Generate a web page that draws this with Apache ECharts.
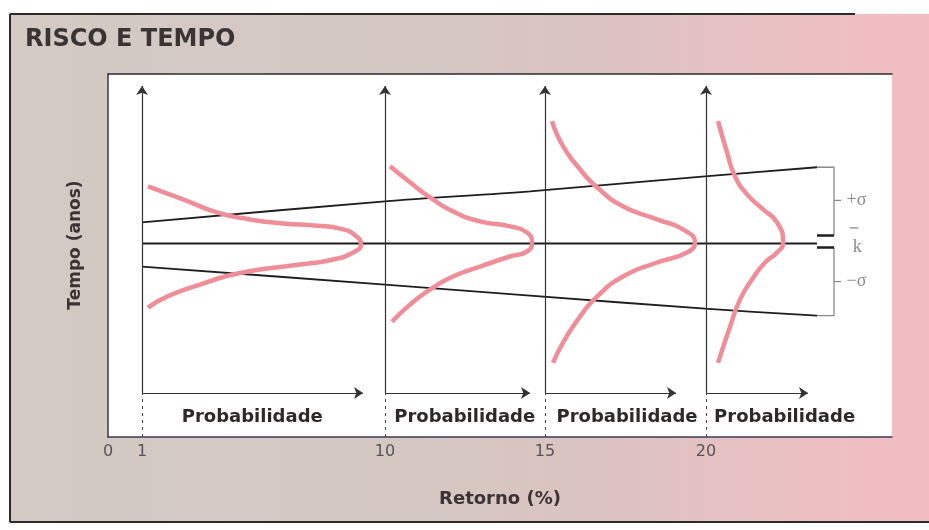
<!DOCTYPE html>
<html>
<head>
<meta charset="utf-8">
<title>Risco e tempo</title>
<script src="https://cdn.jsdelivr.net/npm/echarts@6/dist/echarts.min.js"></script>
<style>
  html, body { margin: 0; padding: 0; background: #fff; }
  #chart { width: 929px; height: 530px; }
</style>
</head>
<body>
<div id="chart"></div>
<script>
// eixo horizontal (Retorno): rotulos e posicao de cada um no esquema (0-100)
var retornoLabels = ['0', '1', '10', '15', '20'];
var retornoPos = [0, 4.34, 35.33, 55.74, 76.28];

// paineis: origem de cada eixo e fim da seta "Probabilidade"
var panelX = [4.34, 35.33, 55.74, 76.28];
var probEnd = [32.53, 53.83, 72.45, 89.29];
var axisBase = 12.15;
var axisTop = 96.7;
var probLabelX = [18.4, 45.5, 66.2, 86.3];

// linhas +sigma, media (k) e -sigma
var upperSigma = [[4.34, 59.12], [35.33, 64.92], [53.83, 67.68], [76.15, 71.82], [90.43, 74.31]];
var lowerSigma = [[4.34, 46.96], [35.33, 41.99], [53.83, 38.95], [76.15, 35.36], [90.43, 33.43]];
var meanLine = [[4.34, 53.3], [90.43, 53.3]];

// distribuicoes de probabilidade (curvas rosa)
var dist1 = [[5.10, 69.06], [9.57, 65.47], [13.90, 61.88], [18.11, 59.94], [22.32, 58.84], [26.66, 58.20],
  [29.60, 57.40], [31.50, 55.60], [32.27, 53.04], [31.25, 50.83], [28.70, 48.90], [24.49, 47.51],
  [20.28, 46.41], [15.94, 44.75], [11.73, 41.99], [7.53, 38.67], [5.10, 35.64]];
var dist2 = [[35.97, 74.59], [38.52, 70.17], [41.07, 66.02], [44.01, 62.15], [47.45, 59.39], [51.28, 58.01],
  [53.44, 56.35], [54.08, 53.59], [53.44, 51.10], [51.28, 49.72], [47.45, 46.96], [44.01, 44.20],
  [41.07, 40.61], [38.52, 36.46], [36.22, 31.77]];
var dist3 = [[56.63, 87.02], [58.04, 80.11], [60.20, 73.76], [62.37, 68.78], [65.69, 63.54], [70.03, 59.94],
  [73.34, 57.18], [74.87, 53.59], [73.85, 50.83], [70.03, 48.07], [65.69, 44.20], [62.37, 38.67],
  [60.20, 33.15], [58.04, 25.97], [56.76, 20.44]];
var dist4 = [[77.81, 87.02], [78.95, 78.45], [79.97, 71.82], [81.51, 66.85], [83.55, 62.71], [85.33, 59.12],
  [86.10, 53.59], [85.33, 50.83], [83.80, 48.07], [82.14, 43.37], [80.61, 37.85], [79.34, 30.39],
  [77.81, 20.44]];

var chart = echarts.init(document.getElementById('chart'));

var arrows = [];
var dashes = [];
panelX.forEach(function (x, i) {
    arrows.push({ coords: [[x, axisBase], [x, axisTop]] });
    arrows.push({ coords: [[x, axisBase], [probEnd[i], axisBase]] });
    dashes.push({ coords: [[x, 0], [x, axisBase]] });
});

var bracket = [
    { coords: [[90.43, 74.31], [92.6, 74.31], [92.6, 55.52]] },
    { coords: [[92.6, 52.21], [92.6, 33.43], [90.43, 33.43]] },
    { coords: [[92.6, 65.2], [93.5, 65.2]] },
    { coords: [[92.6, 42.8], [93.5, 42.8]] },
    { coords: [[94.6, 57.6], [95.7, 57.6]] }
];
var bars = [
    { coords: [[90.43, 55.52], [92.6, 55.52]] },
    { coords: [[90.43, 52.21], [92.6, 52.21]] }
];

function pink(data) {
    return {
        type: 'line',
        data: data,
        smooth: 0.55,
        showSymbol: false,
        silent: true,
        z: 5,
        lineStyle: { color: '#ef8e98', width: 4.5 }
    };
}

function blackLine(data, smooth) {
    return {
        type: 'line',
        data: data,
        smooth: smooth,
        showSymbol: false,
        silent: true,
        z: 3,
        lineStyle: { color: '#1e1e1e', width: 1.8 }
    };
}

var option = {
    backgroundColor: '#ffffff',
    animation: false,
    title: {
        text: 'RISCO E TEMPO',
        left: 25,
        top: 28,
        padding: 0,
        textStyle: { fontFamily: 'DejaVu Sans', fontWeight: 'bold', fontSize: 24, color: '#3b3434' }
    },
    graphic: [
        {
            type: 'rect', z: -10, silent: true,
            shape: { x: 10, y: 14, width: 919, height: 508 },
            style: {
                fill: {
                    type: 'linear', x: 0, y: 0, x2: 1, y2: 0,
                    colorStops: [
                        { offset: 0, color: '#d3cac4' },
                        { offset: 0.45, color: '#d5c8c3' },
                        { offset: 0.65, color: '#dcc3c2' },
                        { offset: 0.85, color: '#ebc0c3' },
                        { offset: 1, color: '#f2bcc2' }
                    ]
                }
            }
        },
        { type: 'line', z: -5, silent: true, shape: { x1: 10, y1: 14, x2: 855, y2: 14 }, style: { stroke: '#2c2c2c', lineWidth: 2 } },
        { type: 'line', z: -5, silent: true, shape: { x1: 10, y1: 14, x2: 10, y2: 522 }, style: { stroke: '#2c2c2c', lineWidth: 2 } },
        { type: 'line', z: -5, silent: true, shape: { x1: 10, y1: 522, x2: 929, y2: 522 }, style: { stroke: '#2c2c2c', lineWidth: 2 } },
        {
            type: 'text', z: 100, silent: true,
            x: 76, y: 245, rotation: Math.PI / 2,
            style: {
                text: 'Tempo (anos)', align: 'center', verticalAlign: 'middle',
                fontFamily: 'DejaVu Sans', fontWeight: 'bold', fontSize: 17, fill: '#3b3434'
            }
        }
    ],
    grid: {
        left: 108, top: 74, right: 37, bottom: 93,
        show: true, backgroundColor: '#ffffff', borderWidth: 0
    },
    xAxis: [{
        type: 'value', min: 0, max: 100,
        axisLine: { show: true, lineStyle: { color: '#3c3a55', width: 1.5 } },
        axisTick: { show: false },
        splitLine: { show: false },
        axisLabel: {
            customValues: retornoPos,
            margin: 7,
            color: '#555555',
            fontFamily: 'DejaVu Sans',
            fontSize: 16,
            formatter: function (v) {
                var best = 0;
                retornoPos.forEach(function (p, i) {
                    if (Math.abs(p - v) < Math.abs(retornoPos[best] - v)) best = i;
                });
                return retornoLabels[best];
            }
        },
        name: 'Retorno (%)',
        nameLocation: 'middle',
        nameGap: 53,
        nameTextStyle: { fontFamily: 'DejaVu Sans', fontWeight: 'bold', fontSize: 18, color: '#3b3434' }
    }, {
        type: 'value', min: 0, max: 100, position: 'top',
        axisLine: { show: true, lineStyle: { color: '#2c2c2c', width: 1.5 } },
        axisTick: { show: false }, axisLabel: { show: false }, splitLine: { show: false }
    }],
    yAxis: {
        type: 'value', min: 0, max: 100,
        axisLine: { show: true, lineStyle: { color: '#3a3a3a', width: 1.5 } },
        axisTick: { show: false }, axisLabel: { show: false }, splitLine: { show: false }
    },
    series: [
        blackLine(upperSigma, 0.3),
        blackLine(lowerSigma, 0.3),
        blackLine(meanLine, false),
        {
            type: 'lines', coordinateSystem: 'cartesian2d', silent: true, z: 4,
            symbol: ['none', 'arrow'], symbolSize: 9,
            lineStyle: { color: '#333333', width: 1.2, opacity: 1 },
            data: arrows
        },
        {
            type: 'lines', coordinateSystem: 'cartesian2d', silent: true, z: 4,
            lineStyle: { color: '#444444', width: 1, type: [3, 4], opacity: 1 },
            data: dashes
        },
        {
            type: 'lines', coordinateSystem: 'cartesian2d', polyline: true, silent: true, z: 4,
            lineStyle: { color: '#8a8a8a', width: 1.3, opacity: 1 },
            data: bracket
        },
        {
            type: 'lines', coordinateSystem: 'cartesian2d', silent: true, z: 4,
            lineStyle: { color: '#1e1e1e', width: 2.5, opacity: 1 },
            data: bars
        },
        pink(dist1),
        pink(dist2),
        pink(dist3),
        pink(dist4),
        {
            type: 'scatter', symbolSize: 0, silent: true, z: 6,
            itemStyle: { color: '#3b3434', opacity: 1 },
            data: probLabelX.map(function (x) { return [x, 5.5]; }),
            label: {
                show: true, position: [0, 0], align: 'center', verticalAlign: 'middle',
                formatter: 'Probabilidade', opacity: 1,
                fontFamily: 'DejaVu Sans', fontWeight: 'bold', fontSize: 18, color: '#2e2828'
            }
        },
        {
            type: 'scatter', symbolSize: 0, silent: true, z: 6,
            itemStyle: { opacity: 1 },
            data: [
                { name: '+σ', value: [94.2, 65.2] },
                { name: 'k', value: [95.0, 52.4] },
                { name: '−σ', value: [94.2, 42.8] }
            ],
            label: {
                show: true, position: [0, 0], align: 'left', verticalAlign: 'middle', formatter: '{b}',
                fontFamily: 'Liberation Serif', fontSize: 18, color: '#8a8a8a'
            }
        }
    ]
};

chart.setOption(option);
</script>
</body>
</html>
